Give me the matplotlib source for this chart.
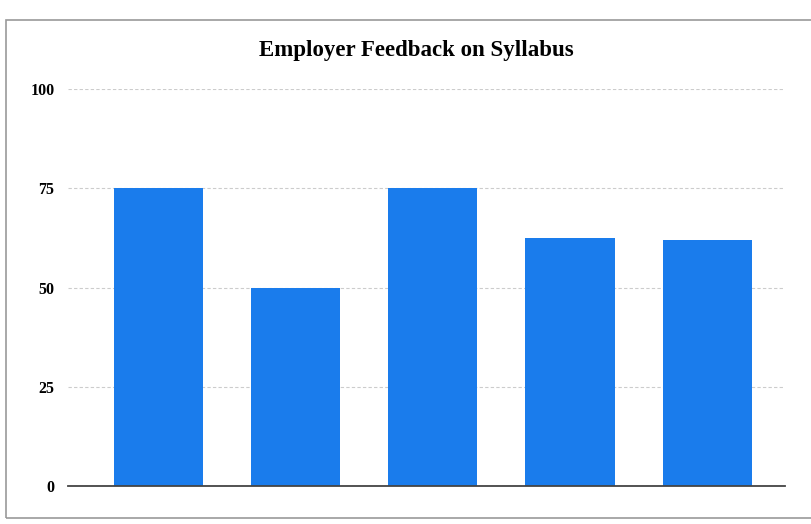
import matplotlib.pyplot as plt
from matplotlib.patches import Rectangle

categories = ['Q1', 'Q2', 'Q3', 'Q4', 'Q5']
scores = [75, 50, 75, 62.5, 62]
yticks = [0, 25, 50, 75, 100]

plt.rcParams['font.family'] = ['Liberation Serif', 'DejaVu Serif']

fig = plt.figure(figsize=(8.12, 5.24), dpi=100)
ax = fig.add_axes([0.084, 0.072, 0.883, 0.758])

x = range(len(categories))
ax.bar(x, scores, width=0.65, color='#1a7cec', zorder=3)

ax.set_xlim(-0.66, 4.57)
ax.set_ylim(0, 100)
ax.set_yticks(yticks)
ax.set_yticklabels([str(t) for t in yticks], fontweight='bold', fontsize=11.5)
ax.set_xticks([])
ax.tick_params(axis='y', length=0, pad=10)

ax.grid(axis='y', color='#cccccc', linestyle=(0, (3, 2)), linewidth=0.8, zorder=0)
for s in ['top', 'right', 'left']:
    ax.spines[s].set_visible(False)
ax.spines['bottom'].set_color('#444444')
ax.spines['bottom'].set_linewidth(1.3)
ax.spines['bottom'].set_zorder(4)

fig.text(0.513, 0.903, 'Employer Feedback on Syllabus', ha='center', va='center',
         fontsize=16.5, fontweight='bold')

# frame around the whole chart
fig.patches.append(Rectangle((0.008, 0.012), 1.2, 0.95, transform=fig.transFigure,
                             fill=False, edgecolor='#999999', linewidth=1.2))

fig.savefig('out.png', dpi=100)
